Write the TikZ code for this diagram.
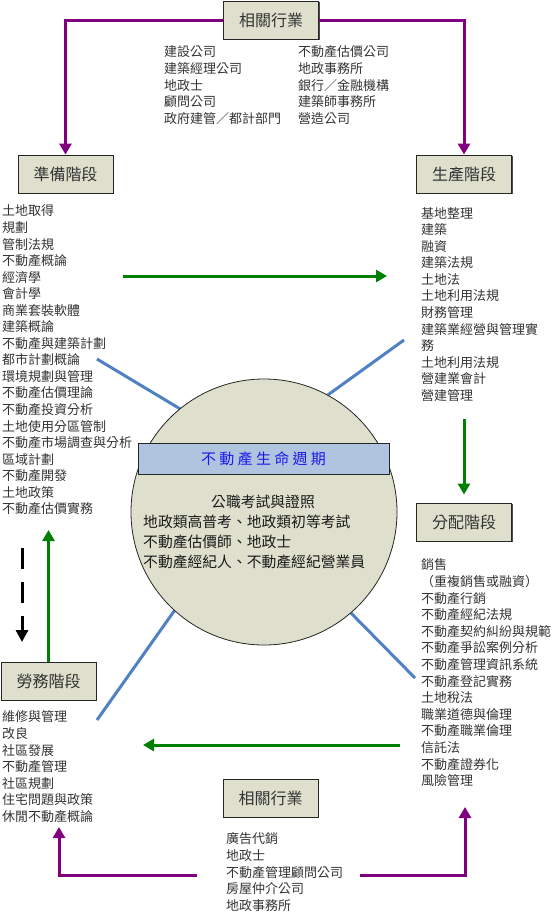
\documentclass[tikz,border=0pt]{standalone}
\usepackage{fontspec}
\setmainfont{Noto Sans CJK TC}
\usetikzlibrary{arrows.meta,shadows}
\definecolor{boxfill}{RGB}{222,223,205}
\definecolor{txtgray}{RGB}{51,51,51}
\definecolor{purp}{RGB}{128,0,128}
\definecolor{grn}{RGB}{0,128,0}
\definecolor{blueline}{RGB}{79,129,196}
\definecolor{bannerfill}{RGB}{176,196,224}
\definecolor{bannertxt}{RGB}{25,25,235}
\begin{document}
\begin{tikzpicture}[x=1pt,y=-1pt,
  stagebox/.style={draw=black!85, line width=0.9pt, fill=boxfill, minimum width=95pt, minimum height=38pt, inner sep=0pt,
    font=\fontsize{16}{16}\selectfont, text=txtgray,
    drop shadow={shadow xshift=1.3pt, shadow yshift=-1.3pt, fill=black!70, opacity=1}},
  listtxt/.style={anchor=west, inner sep=0pt, font=\fontsize{13}{13}\selectfont, text=txtgray},
  circtxt/.style={inner sep=0pt, font=\fontsize{14.8}{14.8}\selectfont, text=black!90},
  purparrow/.style={draw=purp, line width=3pt, -{Triangle[width=12pt,length=11pt]}},
  grnarrow/.style={draw=grn, line width=3pt, -{Triangle[width=12pt,length=11pt]}},
  blkarrow/.style={draw=black, line width=3pt, dash pattern=on 21pt off 13pt, -{Triangle[width=12pt,length=12pt]}},
  blueln/.style={draw=blueline, line width=3pt}
]
\useasboundingbox (0,0) rectangle (557,913);

% blue spokes (drawn first, circle covers their inner ends)
\coordinate (b1a) at (97,359);  \coordinate (b1b) at (182,410);
\coordinate (b2a) at (404,340); \coordinate (b2b) at (325,397);
\coordinate (b3a) at (97,720);  \coordinate (b3b) at (177,607);
\coordinate (b4a) at (415,678); \coordinate (b4b) at (348,610);
\draw[blueln] (b1a) -- (b1b);
\draw[blueln] (b2a) -- (b2b);
\draw[blueln] (b3a) -- (b3b);
\draw[blueln] (b4a) -- (b4b);

% central circle
\node[circle, draw=black!85, line width=0.8pt, fill=boxfill, minimum size=266pt, inner sep=0pt] (cyc) at (264,512) {};
\node[draw=black!85, line width=0.9pt, fill=bannerfill, minimum width=251pt, minimum height=31pt, inner sep=0pt,
      font=\fontsize{15}{15}\selectfont, text=bannertxt] (banner) at (263.5,458.5)
  {不\hspace{3.3pt}動\hspace{3.3pt}產\hspace{3.3pt}生\hspace{3.3pt}命\hspace{3.3pt}週\hspace{3.3pt}期};
\node[circtxt] (c1) at (263,502) {公職考試與證照};
\node[circtxt, anchor=west] (c2) at (143,522) {地政類高普考、地政類初等考試};
\node[circtxt, anchor=west] (c3) at (143,542) {不動產估價師、地政士};
\node[circtxt, anchor=west] (c4) at (143,562) {不動產經紀人、不動產經紀營業員};

% stage boxes
\node[stagebox] (top)  at (271,20)    {相關行業};
\node[stagebox] (prep) at (65.5,174)  {準備階段};
\node[stagebox] (prod) at (464,174)   {生產階段};
\node[stagebox] (dist) at (464,522)   {分配階段};
\node[stagebox] (serv) at (48.5,681)  {勞務階段};
\node[stagebox] (bot)  at (270.5,798) {相關行業};

% top industry lists
\foreach \t [count=\i from 0] in {建設公司,建築經理公司,地政士,顧問公司,政府建管／都計部門}
  \node[listtxt] (ta\i) at (164,52+16.6*\i) {\t};
\foreach \t [count=\i from 0] in {不動產估價公司,地政事務所,銀行／金融機構,建築師事務所,營造公司}
  \node[listtxt] (tb\i) at (298,52+16.6*\i) {\t};

% preparation list
\foreach \t [count=\i from 0] in {土地取得,規劃,管制法規,不動產概論,經濟學,會計學,商業套裝軟體,建築概論,不動產與建築計劃,都市計劃概論,環境規劃與管理,不動產估價理論,不動產投資分析,土地使用分區管制,不動產市場調查與分析,區域計劃,不動產開發,土地政策,不動產估價實務}
  \node[listtxt] (pl\i) at (2,211+16.55*\i) {\t};

% production list
\foreach \t [count=\i from 0] in {基地整理,建築,融資,建築法規,土地法,土地利用法規,財務管理,建築業經營與管理實,務,土地利用法規,營建業會計,營建管理}
  \node[listtxt] (rl\i) at (421,213+16.6*\i) {\t};

% distribution list
\foreach \t [count=\i from 0] in {銷售,（重複銷售或融資）,不動產行銷,不動產經紀法規,不動產契約糾紛與規範,不動產爭訟案例分析,不動產管理資訊系統,不動產登記實務,土地稅法,職業道德與倫理,不動產職業倫理,信託法,不動產證券化,風險管理}
  \node[listtxt] (dl\i) at (421,565+16.6*\i) {\t};

% service list
\foreach \t [count=\i from 0] in {維修與管理,改良,社區發展,不動產管理,社區規劃,住宅問題與政策,休閒不動產概論}
  \node[listtxt] (sl\i) at (2,717+16.6*\i) {\t};

% bottom industry list
\foreach \t [count=\i from 0] in {廣告代銷,地政士,不動產管理顧問公司,房屋仲介公司,地政事務所}
  \node[listtxt] (bl\i) at (226,839+16.6*\i) {\t};

% purple connectors
\draw[purparrow] (top.west) -| (prep.north);
\draw[purparrow] (top.east) -| (prod.north);
\coordinate (pl) at (197,875); \coordinate (plt) at (59,827);
\coordinate (pr) at (360,875); \coordinate (prt) at (465,807);
\draw[purparrow] (pl) -| (plt);
\draw[purparrow] (pr) -| (prt);

% green flow arrows
\coordinate (g1s) at (123,276); \coordinate (g1e) at (387,276);
\draw[grnarrow] (g1s) -- (g1e);
\coordinate (g2s) at (464,419);
\draw[grnarrow] (g2s) -- ([yshift=8pt]dist.north);
\coordinate (g3s) at (400,745); \coordinate (g3e) at (143,745);
\draw[grnarrow] (g3s) -- (g3e);
\coordinate (g4e) at (48.5,530);
\draw[grnarrow] (serv.north) -- (g4e);

% black dashed arrow
\coordinate (k1) at (22,548); \coordinate (k2) at (22,642);
\draw[blkarrow] (k1) -- (k2);
\end{tikzpicture}
\end{document}
